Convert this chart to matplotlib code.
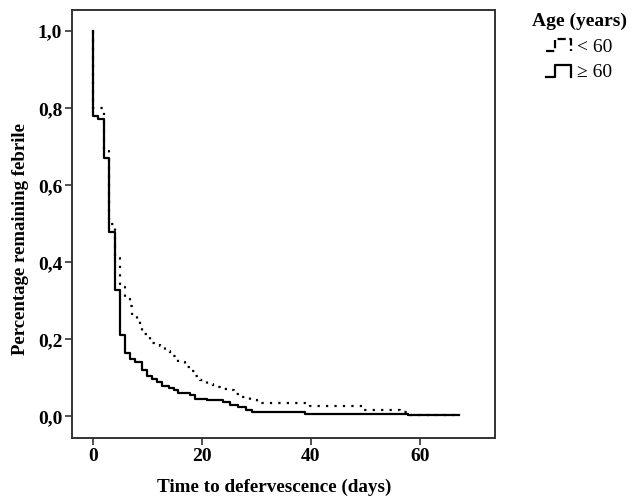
import numpy as np
import matplotlib
matplotlib.use("Agg")
import matplotlib.pyplot as plt
from matplotlib.lines import Line2D
from matplotlib.legend_handler import HandlerBase

plt.rcParams["font.family"] = ["Liberation Serif", "DejaVu Serif"]

# Kaplan-Meier step data
t_lt60 = [0, 0, 2, 3, 4, 5, 5.9, 6.8, 7.15, 8.1, 8.7, 9.0, 10.5, 12.3, 13.3,
          14.2, 15.7, 16.9, 17.9, 18.8, 19.7, 20.9, 22.1, 23.4, 24.6, 25.8,
          27.0, 28.9, 30.1, 39.9, 49.5, 56.4, 58.2, 67.2]
s_lt60 = [1.0, 0.80, 0.69, 0.50, 0.41, 0.335, 0.306, 0.286, 0.267, 0.254,
          0.236, 0.215, 0.190, 0.184, 0.171, 0.158, 0.141, 0.128, 0.119, 0.106,
          0.094, 0.085, 0.076, 0.072, 0.068, 0.059, 0.050, 0.042, 0.034, 0.027,
          0.016, 0.011, 0.004, 0.004]

t_ge60 = [0, 0, 1, 2, 3, 4, 5, 5.9, 6.8, 7.8, 9.0, 9.9, 10.8, 11.7, 12.7,
          13.9, 14.8, 15.7, 17.9, 18.8, 20.9, 23.9, 25.2, 26.7, 28.0, 29.2,
          39.0, 57.9, 67.2]
s_ge60 = [1.0, 0.78, 0.772, 0.671, 0.479, 0.327, 0.212, 0.164, 0.150, 0.141,
          0.121, 0.104, 0.096, 0.089, 0.080, 0.074, 0.068, 0.062, 0.055, 0.046,
          0.042, 0.037, 0.029, 0.024, 0.017, 0.012, 0.007, 0.003, 0.003]

group_labels = ["< 60", "\u2265 60"]
x_ticks = [0, 20, 40, 60]
y_ticks = [0.0, 0.2, 0.4, 0.6, 0.8, 1.0]
y_ticklabels = ["0,0", "0,2", "0,4", "0,6", "0,8", "1,0"]


class StepHandler(HandlerBase):
    # legend glyph drawn as a small step, like the SPSS survival legend
    def create_artists(self, legend, orig_handle, xdescent, ydescent,
                       width, height, fontsize, trans):
        xs = np.array([0.0, 0.35, 0.35, 1.0, 1.0]) * width - xdescent
        ys = np.array([0.05, 0.05, 0.9, 0.9, 0.05]) * height - ydescent
        ln = Line2D(xs, ys, color=orig_handle.get_color(),
                    lw=orig_handle.get_linewidth(),
                    ls=orig_handle.get_linestyle())
        ln.set_transform(trans)
        return [ln]


fig = plt.figure(figsize=(6.33, 4.98), dpi=100)
ax = fig.add_axes([72 / 633, 1 - 438 / 498, 423 / 633, 428 / 498])

l1, = ax.step(t_lt60, s_lt60, where="post", color="black", lw=1.6,
              ls=(0, (1, 2.8)), zorder=2)
l2, = ax.step(t_ge60, s_ge60, where="post", color="black", lw=1.6, zorder=3)

ax.set_xlim(-3.85, 73.8)
ax.set_ylim(-0.056, 1.055)
ax.set_xticks(x_ticks)
ax.set_yticks(y_ticks)
ax.set_yticklabels(y_ticklabels)
for lab in ax.get_xticklabels() + ax.get_yticklabels():
    lab.set_fontweight("bold")
    lab.set_fontsize(14)
ax.tick_params(direction="out", length=5, width=1.2, color="#333333", pad=2)
for sp in ax.spines.values():
    sp.set_linewidth(1.4)
    sp.set_color("#333333")

ax.set_xlabel("Time to defervescence (days)", fontsize=13.8,
              fontweight="bold")
ax.set_ylabel("Percentage remaining febrile", fontsize=13.5,
              fontweight="bold")
ax.xaxis.set_label_coords(0.478, -0.095)
ax.yaxis.set_label_coords(-0.102, 0.466)

leg = fig.legend([l1, l2], group_labels, loc="upper left",
                 bbox_to_anchor=(516 / 633, 1 + 3 / 498),
                 handler_map={Line2D: StepHandler()},
                 title="Age (years)", frameon=False, fontsize=14,
                 handlelength=1.3, handletextpad=0.3, labelspacing=0.42,
                 borderpad=0.3)
leg.get_title().set_fontweight("bold")
leg.get_title().set_fontsize(14)

fig.savefig("out.png", dpi=100)
